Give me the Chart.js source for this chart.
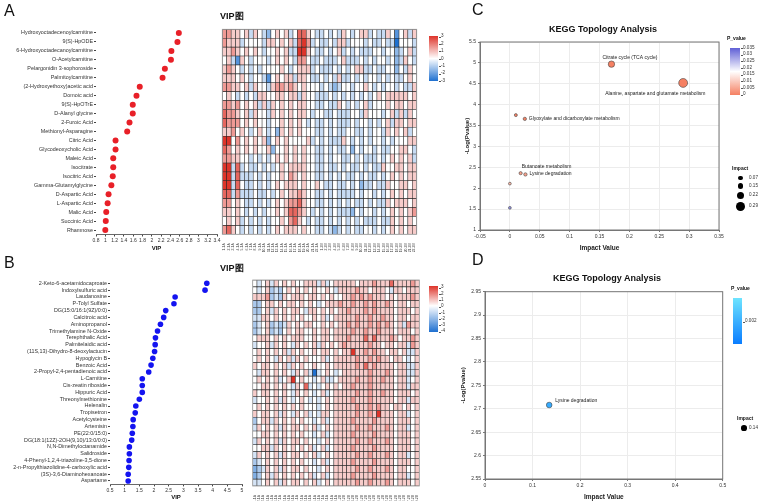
<!DOCTYPE html>
<html>
<head>
<meta charset="utf-8">
<script src="https://cdn.jsdelivr.net/npm/chart.js@4.4.1/dist/chart.umd.min.js"></script>
<style>
  body { margin: 0; background: #fff; width: 762px; height: 501px; position: relative; overflow: hidden; font-family: "Liberation Sans", Arial, sans-serif; }
  canvas { position: absolute; }
  .t { position: absolute; white-space: nowrap; color: #111; line-height: 1; }
  .letter { font-size: 16px; }
  .ttl { font-size: 9px; font-weight: bold; }
  .sm { font-size: 4.6px; color: #333; }
  .bar { position: absolute; }
  .dot { position: absolute; background: #000; border-radius: 50%; }
</style>
</head>
<body>
<canvas id="dotA" width="222" height="252" style="left:0;top:0"></canvas>
<canvas id="heatA" width="230" height="252" style="left:200px;top:0"></canvas>
<canvas id="bubC" width="298" height="252" style="left:464px;top:0"></canvas>
<canvas id="dotB" width="250" height="251" style="left:0;top:250px"></canvas>
<canvas id="heatB" width="200" height="251" style="left:230px;top:250px"></canvas>
<canvas id="bubD" width="302" height="251" style="left:460px;top:250px"></canvas>

<div class="t letter" style="left:4px;top:3px">A</div>
<div class="t letter" style="left:4px;top:255px">B</div>
<div class="t letter" style="left:472px;top:2px">C</div>
<div class="t letter" style="left:472px;top:252px">D</div>
<div class="t ttl" style="left:220px;top:12px">VIP图</div>
<div class="t ttl" style="left:220px;top:264px">VIP图</div>
<div class="t ttl" style="left:549px;top:25px">KEGG Topology Analysis</div>
<div class="t ttl" style="left:553px;top:274px">KEGG Topology Analysis</div>
<div id="legends"></div>

<script>
// panel A: VIP dot plot + heatmap
const namesA = ['Hydroxyoctadecenoylcarnitine', '9(S)-HpODE', '6-Hydroxyoctadecanoylcarnitine', 'O-Acetylcarnitine',
  'Pelargonidin 3-sophoroside', 'Palmitoylcarnitine', '(2-Hydroxyethoxy)acetic acid', 'Domoic acid', '9(S)-HpOTrE',
  'D-Alanyl glycine', '2-Furoic Acid', 'Methionyl-Asparagine', 'Citric Acid', 'Glycodeoxycholic Acid', 'Maleic Acid',
  'Isocitrate', 'Isocitric Acid', 'Gamma-Glutamylglycine', 'D-Aspartic Acid', 'L-Aspartic Acid', 'Malic Acid',
  'Succinic Acid', 'Rhamnose'];
const vipA = [2.58, 2.55, 2.42, 2.41, 2.28, 2.23, 1.74, 1.67, 1.59, 1.59, 1.52, 1.47, 1.22, 1.22, 1.17, 1.17, 1.16,
  1.13, 1.07, 1.05, 1.02, 1.01, 1.0];
const ticksA = [0.8, 3.4, 0.2];

// heatmap levels: '0' = -3 ... '4' = 0 ... '8' = 3, 'X' = -4
const heatA = [
  '66554535432454534775433434354345534335414535',
  '65553444435545453786343343553444343343304443',
  '55654545434454533885433434534343334434423453',
  '45315434443454543664334333453334343443423543',
  '56543434344445434555343334343455334334424354',
  '55545434431454553554334343533434344343433454',
  '66554535443566565454443432344344543434434335',
  '45434343554455455354433343434343434545555545',
  '66564545353545454554433433543434534445455455',
  '76654535443545454554344334333443544434535354',
  '76664545443445454543433434333434434345355455',
  '55645434543425454544433434334433434435454534',
  '88464545452454544445343433354343434434344455',
  '76454545445244545454433434334243443433445543',
  '66554434343454545454433434433434333434545453',
  '88373433434345455554433433434334343354455455',
  '88373334343445465454433434343343433434545455',
  '88374334343454555454454334334342334335445545',
  '77363334334345455654433434333343443434545455',
  '66454334343454566754433434343433434335455545',
  '55454343434454577654343434333243443434545456',
  '45453434343445467543433434343434333433545454',
  '67543434343454555454433432343433443434545455'
];
const colsA = Array.from({ length: 44 }, (_, i) => (i < 22 ? (i + 1) + '-1A' : (i - 21) + '-2B'));

// panel B
const namesB = ['2-Keto-6-acetamidocaproate', 'Indoxylsulfuric acid', 'Laudanosine', 'P-Tolyl Sulfate',
  'DG(15:0/16:1(9Z)/0:0)', 'Calcitroic acid', 'Aminopropanol', 'Trimethylamine N-Oxide', 'Terephthalic Acid',
  'Palmitelaidic acid', '(11S,13)-Dihydro-8-deoxylactucin', 'Hypoglycin B', 'Benzoic Acid',
  '2-Propyl-2,4-pentadienoic acid', 'L-Carnitine', 'Cis-zeatin riboside', 'Hippuric Acid', 'Threonylmethionine',
  'Helenalin', 'Tropisetron', 'Acetylcysteine', 'Artemisin', 'PE(22:0/15:0)', 'DG(18:1(12Z)-2OH(9,10)/13:0/0:0)',
  'N,N-Dimethyloctanamide', 'Salidroside', '4-Phenyl-1,2,4-triazoline-3,5-dione',
  '2-n-Propylthiazolidine-4-carboxylic acid', '(3S)-3,6-Diaminohexanoate', 'Aspartame'];
const vipB = [3.8, 3.74, 2.72, 2.68, 2.4, 2.33, 2.22, 2.12, 2.05, 2.04, 2.02, 1.96, 1.9, 1.82, 1.6, 1.6, 1.6, 1.5,
  1.38, 1.36, 1.29, 1.28, 1.26, 1.24, 1.16, 1.16, 1.15, 1.14, 1.12, 1.12];
const ticksB = [0.5, 5, 0.5];
const heatB = [
  '434535454544555353455555455565557555565',
  '434523245454545445435555655455543554555',
  '555623254555455454544556565655545455565',
  '224554545545454345556556556565565455455',
  '224535454554355454545565556565555455545',
  '335545454545445453455555655655655455455',
  '234523235454554454545565655656565453655',
  '234523245455445455455556556556555455545',
  '455545454555445455455565557575556545565',
  '344535454354545354545655555655455455365',
  '454545453545445455454558556565545545335',
  '454543545354544453455555655656554554345',
  '545545453545445445455555657565555455335',
  '4355454543545' + '3X34543455555' + '5655565455335',
  '454545345845443453345555655655655455345',
  '445545454354734345454556555655555455355',
  '545545454354543453455555655655655455545',
  '344545354345434345455556555655555455355',
  '454545454545444345455555655656554554545',
  '545545354354534355455555655658555455345',
  '245535454545443453455556555565555455545',
  '354545354554545345455555655655565455345',
  '445545454545443453455556555565555455545',
  '354545354554544345455555655655565455545',
  '445535454545453453455556555565555455545',
  '354545354554545345455555655655565455345',
  '234545454545443453455556555565555455545',
  '123545354554544345455555655655565455445',
  '124535454545453453455556555565555455345',
  '334545354554545345455555655655565455545'
];
const colsB = Array.from({ length: 39 }, (_, i) => (i < 20 ? (i + 1) + '-1A' : (i - 19) + '-2B'));

// panel C: KEGG topology
const pathC = ['Citrate cycle (TCA cycle)', 'Alanine, aspartate and glutamate metabolism', '',
  'Glyoxylate and dicarboxylate metabolism', 'Butanoate metabolism', 'Lysine degradation', '', ''];
const impactC = [0.17, 0.29, 0.01, 0.025, 0.018, 0.026, 0, 0];
const logpC = [4.97, 4.52, 3.75, 3.66, 2.36, 2.33, 2.11, 1.53];
// label placement, pixels from the point
const labOffC = [[-9, -7], [-78, 11], null, [4, 0], [1, -7], [4, -1], null, null];

// panel D
const pathD = ['Lysine degradation'];
const impactD = [0.135];
const logpD = [2.708];
const labOffD = [[6, -4]];

const legendHeatA = ['3', '2', '1', '0', '-1', '-2', '-3'];
const legendHeatB = ['3', '2', '1', '0', '-1', '-2', '-3', '-4'];
const legendPC = ['0.035', '0.03', '0.025', '0.02', '0.015', '0.01', '0.005', '0'];
const legendImpC = [0.07, 0.15, 0.22, 0.29];
const legendImpD = [0.14];

Chart.defaults.font.family = '"Liberation Sans", Arial, sans-serif';
Chart.defaults.color = '#333';
Chart.defaults.animation = false;
Chart.defaults.plugins.legend.display = false;
Chart.defaults.plugins.tooltip.enabled = false;

const lvl = { 'X': -4 };
'012345678'.split('').forEach((c, i) => { lvl[c] = (i - 4) * 0.75; });

function mix(a, b, t) {
  return 'rgb(' + a.map((x, i) => Math.round(x + (b[i] - x) * t)).join(',') + ')';
}
const WHITE = [255, 255, 255], RED = [222, 52, 42], BLUE = [30, 112, 208];
function heatColor(v, lo) {
  if (v >= 0) return mix(WHITE, RED, Math.min(v / 3, 1));
  return mix(WHITE, BLUE, Math.min(v / lo, 1));
}

// area = [left, top, right, bottom] of the plot inside the canvas
function dotChart(id, names, vals, color, xs, area, r) {
  const cv = document.getElementById(id);
  const W = cv.width, H = cv.height;
  return new Chart(cv, {
    type: 'scatter',
    data: { datasets: [{ data: names.map((n, i) => ({ x: vals[i], y: n })), backgroundColor: color, borderWidth: 0, pointRadius: r }] },
    options: {
      responsive: false,
      layout: { padding: { left: 0, top: area[1], right: W - area[2], bottom: 0 } },
      scales: {
        x: {
          type: 'linear', min: xs[0], max: xs[1],
          ticks: { stepSize: xs[2], font: { size: 5 }, padding: 1, color: '#333', autoSkip: false, maxRotation: 0, minRotation: 0,
            callback: v => String(+v.toFixed(1)) },
          grid: { drawOnChartArea: false, tickLength: 2, tickColor: '#444' },
          border: { color: '#444', width: 0.8 },
          title: { display: true, text: 'VIP', font: { size: 6, weight: 'bold' }, color: '#111', padding: 0 },
          afterFit: s => { s.height = H - area[3]; }
        },
        y: {
          type: 'category', labels: names, offset: true,
          ticks: { font: { size: 5.4 }, padding: 1, autoSkip: false, color: '#333' },
          grid: { drawOnChartArea: false, tickLength: 2, tickColor: '#444' },
          border: { display: false },
          afterFit: s => { s.width = area[0]; }
        }
      }
    }
  });
}

const outline = {
  id: 'outline',
  afterDatasetsDraw(chart, args, o) {
    const a = chart.chartArea, ctx = chart.ctx;
    ctx.save();
    ctx.strokeStyle = o.color;
    ctx.lineWidth = o.width;
    ctx.strokeRect(a.left, a.top, a.right - a.left, a.bottom - a.top);
    ctx.restore();
  }
};

function heatChart(id, rows, cols, lo, area) {
  const cv = document.getElementById(id);
  const W = cv.width, H = cv.height;
  const vals = rows.map(s => s.split('').map(ch => lvl[ch]));
  const datasets = vals.slice().reverse().map(rv => ({
    data: rv.map(() => 1),
    backgroundColor: rv.map(v => heatColor(v, lo)),
    borderColor: '#2a2a2a', borderWidth: 0.6, borderSkipped: false,
    barPercentage: 1, categoryPercentage: 1
  }));
  return new Chart(cv, {
    type: 'bar',
    data: { labels: cols, datasets },
    options: {
      responsive: false,
      layout: { padding: { left: area[0], top: area[1], right: W - area[2], bottom: 0 } },
      plugins: { outline: { color: '#999', width: 0.8 } },
      scales: {
        x: {
          stacked: true,
          ticks: { font: { size: 3.4 }, minRotation: 90, maxRotation: 90, autoSkip: false, padding: 1, color: '#444' },
          grid: { display: false }, border: { display: false },
          afterFit: s => { s.height = H - area[3]; }
        },
        y: { stacked: true, display: false, min: 0, max: rows.length }
      }
    },
    plugins: [outline]
  });
}

const pointLabels = {
  id: 'pointLabels',
  afterDatasetsDraw(chart, args, o) {
    const ctx = chart.ctx;
    const pts = chart.getDatasetMeta(0).data;
    ctx.save();
    ctx.font = '5px "Liberation Sans", Arial, sans-serif';
    ctx.fillStyle = '#222';
    ctx.textBaseline = 'middle';
    pts.forEach((p, i) => {
      if (!o.text[i] || !o.off[i]) return;
      ctx.fillText(o.text[i], p.x + o.off[i][0], p.y + o.off[i][1]);
    });
    ctx.restore();
  }
};

function bubbleChart(id, impact, logp, colors, names, offs, xs, ys, area, dec) {
  const cv = document.getElementById(id);
  const W = cv.width, H = cv.height;
  const tickFmt = v => String(+v.toFixed(dec));
  return new Chart(cv, {
    type: 'bubble',
    data: {
      datasets: [{
        data: impact.map((x, i) => ({ x: x, y: logp[i], r: 1.4 + x * 10.5 })),
        backgroundColor: colors, borderColor: '#444', borderWidth: 0.6
      }]
    },
    options: {
      responsive: false,
      layout: { padding: { left: 0, top: area[1], right: W - area[2], bottom: 0 } },
      plugins: { outline: { color: '#777', width: 1 }, pointLabels: { text: names, off: offs } },
      scales: {
        x: {
          type: 'linear', min: xs[0], max: xs[1],
          ticks: { stepSize: xs[2], font: { size: 5 }, padding: 2, color: '#333', autoSkip: false, maxRotation: 0, callback: tickFmt },
          grid: { color: '#ececec', tickLength: 2, tickColor: '#777' },
          border: { color: '#777' },
          title: { display: true, text: 'Impact Value', font: { size: 6.5, weight: 'bold' }, color: '#222', padding: 0 },
          afterFit: s => { s.height = H - area[3]; }
        },
        y: {
          type: 'linear', min: ys[0], max: ys[1],
          ticks: { stepSize: ys[2], font: { size: 5 }, padding: 2, color: '#333', autoSkip: false, callback: tickFmt },
          grid: { color: '#ececec', tickLength: 2, tickColor: '#777' },
          border: { color: '#777' },
          title: { display: true, text: '-Log(Pvalue)', font: { size: 6, weight: 'bold' }, color: '#222', padding: 0 },
          afterFit: s => { s.width = area[0]; }
        }
      }
    },
    plugins: [outline, pointLabels]
  });
}

// colour scales for P value
const SALMON = [245, 128, 98], PURPLE = [96, 96, 214];
function pColorC(p) {
  if (p <= 0.0175) return mix(SALMON, WHITE, p / 0.0175);
  return mix(WHITE, PURPLE, Math.min((p - 0.0175) / 0.0175, 1));
}
const CYAN = [110, 228, 255], DEEP = [10, 125, 255];

dotChart('dotA', namesA, vipA, 'rgb(232,32,40)', ticksA, [96, 28.5, 217, 234.5], 3);
heatChart('heatA', heatA, colsA, -3, [22.3, 29.3, 216.7, 234.3]);
dotChart('dotB', namesB, vipB, 'rgb(20,20,240)', ticksB, [110, 29.9, 242, 234.4], 2.8);
heatChart('heatB', heatB, colsB, -4, [22.7, 30, 189.3, 236]);

bubbleChart('bubC', impactC, logpC, logpC.map(l => pColorC(Math.pow(10, -l))), pathC, labOffC,
  [-0.05, 0.35, 0.05], [1, 5.5, 0.5], [16, 42, 255, 230], 2);
bubbleChart('bubD', impactD, logpD, logpD.map(() => mix(CYAN, DEEP, 0.55)), pathD, labOffD,
  [0, 0.5, 0.1], [2.55, 2.95, 0.05], [25, 41.7, 262.7, 229], 2);

// legends
const lg = document.getElementById('legends');
function add(html) { lg.insertAdjacentHTML('beforeend', html); }
function gradBar(x, y, w, h, bg) {
  add(`<div class="bar" style="left:${x}px;top:${y}px;width:${w}px;height:${h}px;background:${bg}"></div>`);
}
function labels(list, x, y0, y1) {
  const step = list.length > 1 ? (y1 - y0) / (list.length - 1) : 0;
  list.forEach((t, i) => {
    const y = y0 + i * step;
    add(`<div class="bar" style="left:${x - 2}px;top:${y}px;width:1.5px;height:0.6px;background:#555"></div>`);
    add(`<div class="t sm" style="left:${x}px;top:${y - 2.3}px">${t}</div>`);
  });
}
const red = mix(WHITE, RED, 1), blue = mix(WHITE, BLUE, 1);
gradBar(429, 36, 9, 45, `linear-gradient(to bottom, ${red}, #fff 50%, ${blue})`);
labels(legendHeatA, 441, 36.7, 81);
gradBar(429, 286, 9, 46, `linear-gradient(to bottom, ${red}, #fff 43%, ${blue})`);
labels(legendHeatB, 441, 287.7, 331.7);

add('<div class="t" style="left:727px;top:36px;font-size:5px;font-weight:bold">P_value</div>');
gradBar(730, 48, 10, 47, `linear-gradient(to bottom, ${mix(PURPLE, PURPLE, 0)}, #fff 50%, ${mix(SALMON, SALMON, 0)})`);
labels(legendPC, 743, 48, 94.7);
add('<div class="t" style="left:732px;top:166px;font-size:5px;font-weight:bold">Impact</div>');
[178, 186, 195.7, 206.7].forEach((y, i) => {
  const r = 1.4 + legendImpC[i] * 10.5;
  add(`<div class="dot" style="left:${740.5 - r}px;top:${y - r}px;width:${2 * r}px;height:${2 * r}px"></div>`);
  add(`<div class="t sm" style="left:749px;top:${y - 2.3}px">${legendImpC[i]}</div>`);
});

add('<div class="t" style="left:731px;top:286px;font-size:5px;font-weight:bold">P_value</div>');
gradBar(733, 298, 9, 46, `linear-gradient(to bottom, ${mix(CYAN, CYAN, 0)}, ${mix(DEEP, DEEP, 0)})`);
labels(['0.002'], 745, 321.7, 321.7);
add('<div class="t" style="left:737px;top:416px;font-size:5px;font-weight:bold">Impact</div>');
{
  const r = 1.4 + legendImpD[0] * 10.5;
  add(`<div class="dot" style="left:${743.7 - r}px;top:${428.3 - r}px;width:${2 * r}px;height:${2 * r}px"></div>`);
  add(`<div class="t sm" style="left:749px;top:426px">${legendImpD[0]}</div>`);
}
</script>
</body>
</html>
